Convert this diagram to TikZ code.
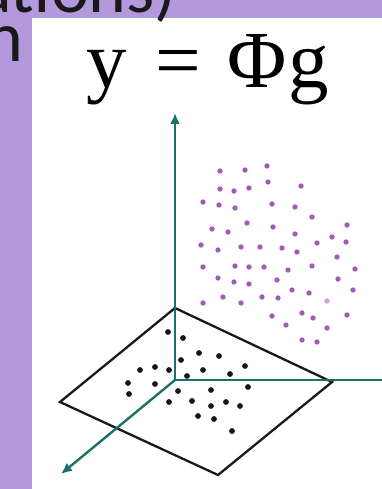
\documentclass[tikz,border=0pt]{standalone}
\usepackage{fontspec}
\setmainfont{Liberation Serif}
\newfontfamily\slidefont{Carlito}
\usetikzlibrary{arrows.meta}
\definecolor{slidebg}{RGB}{180,152,220}
\definecolor{axisteal}{RGB}{28,114,104}
\definecolor{liftdot}{RGB}{163,92,182}
\definecolor{flatdot}{RGB}{26,16,30}
\begin{document}
\begin{tikzpicture}[x=1pt,y=-1pt,
    axis/.style={axisteal,line width=2.4pt},
    plane/.style={black!90,line width=2.3pt,line join=miter},
    slidetext/.style={anchor=base east,inner sep=0,text=black!90,font=\slidefont\fontsize{72}{80}\selectfont}]
    \useasboundingbox (0,0) rectangle (382,489);
    \clip (0,0) rectangle (382,489);
    \fill[slidebg] (0,0) rectangle (382,489);
    \fill[white] (32,18) rectangle (382,489);
    \node[slidetext] (head) at (177,13) {tations)};
    \node[slidetext] (word) at (24,62) {n};
    \node[anchor=base west,inner sep=0,font=\fontsize{81}{84}\selectfont] (eq) at (86,88) {y\hspace{29pt}=\hspace{26pt}Φ\hspace{2pt}g};
    \coordinate (o) at (175,380);
    \coordinate (up) at (175,113);
    \coordinate (rt) at (382,380);
    \coordinate (dn) at (61,474);
    \coordinate (pt) at (175,308);
    \coordinate (pr) at (332,382);
    \coordinate (pb) at (218,475);
    \coordinate (pl) at (60,402);
    \draw[plane] (pt) -- (pr) -- (pb) -- (pl) -- cycle;
    \draw[axis,-{Latex[length=11pt,width=10pt]}] (o) -- (up);
    \draw[axis] (o) -- (rt);
    \draw[axis,-{Latex[length=11pt,width=10pt]}] (o) -- (dn);
    \foreach \px/\py in {220/171,245/170,267/166,220/189,234/191,249/188,268/182,301/186,
        203/202,219/205,235/208,272/204,295/207,312/217,347/225,212/229,228/232,247/223,273/227,295/234,
        201/245,218/250,241/247,260/247,282/248,297/252,317/243,332/237,346/242,337/257,
        203/267,235/266,249/267,264/267,288/270,312/266,355/269,
        218/278,234/282,249/284,277/280,292/290,309/293,338/279,353/290,
        203/303,223/297,241/303,262/297,278/298,
        272/316,302/313,313/318,347/315,286/325,327/328,302/340,317/342}
      \fill[liftdot] (\px,\py) circle (2.7pt);
    \fill[liftdot!55] (327,301) circle (2.7pt);
    \foreach \px/\py in {168/332,183/338,199/353,219/356,181/360,140/370,155/367,169/370,187/376,203/370,230/374,245/366,
        128/383,155/384,129/394,178/391,211/390,248/387,169/402,192/401,211/406,226/402,240/406,198/416,214/419,232/431}
      \fill[flatdot] (\px,\py) circle (2.9pt);
\end{tikzpicture}
\end{document}
